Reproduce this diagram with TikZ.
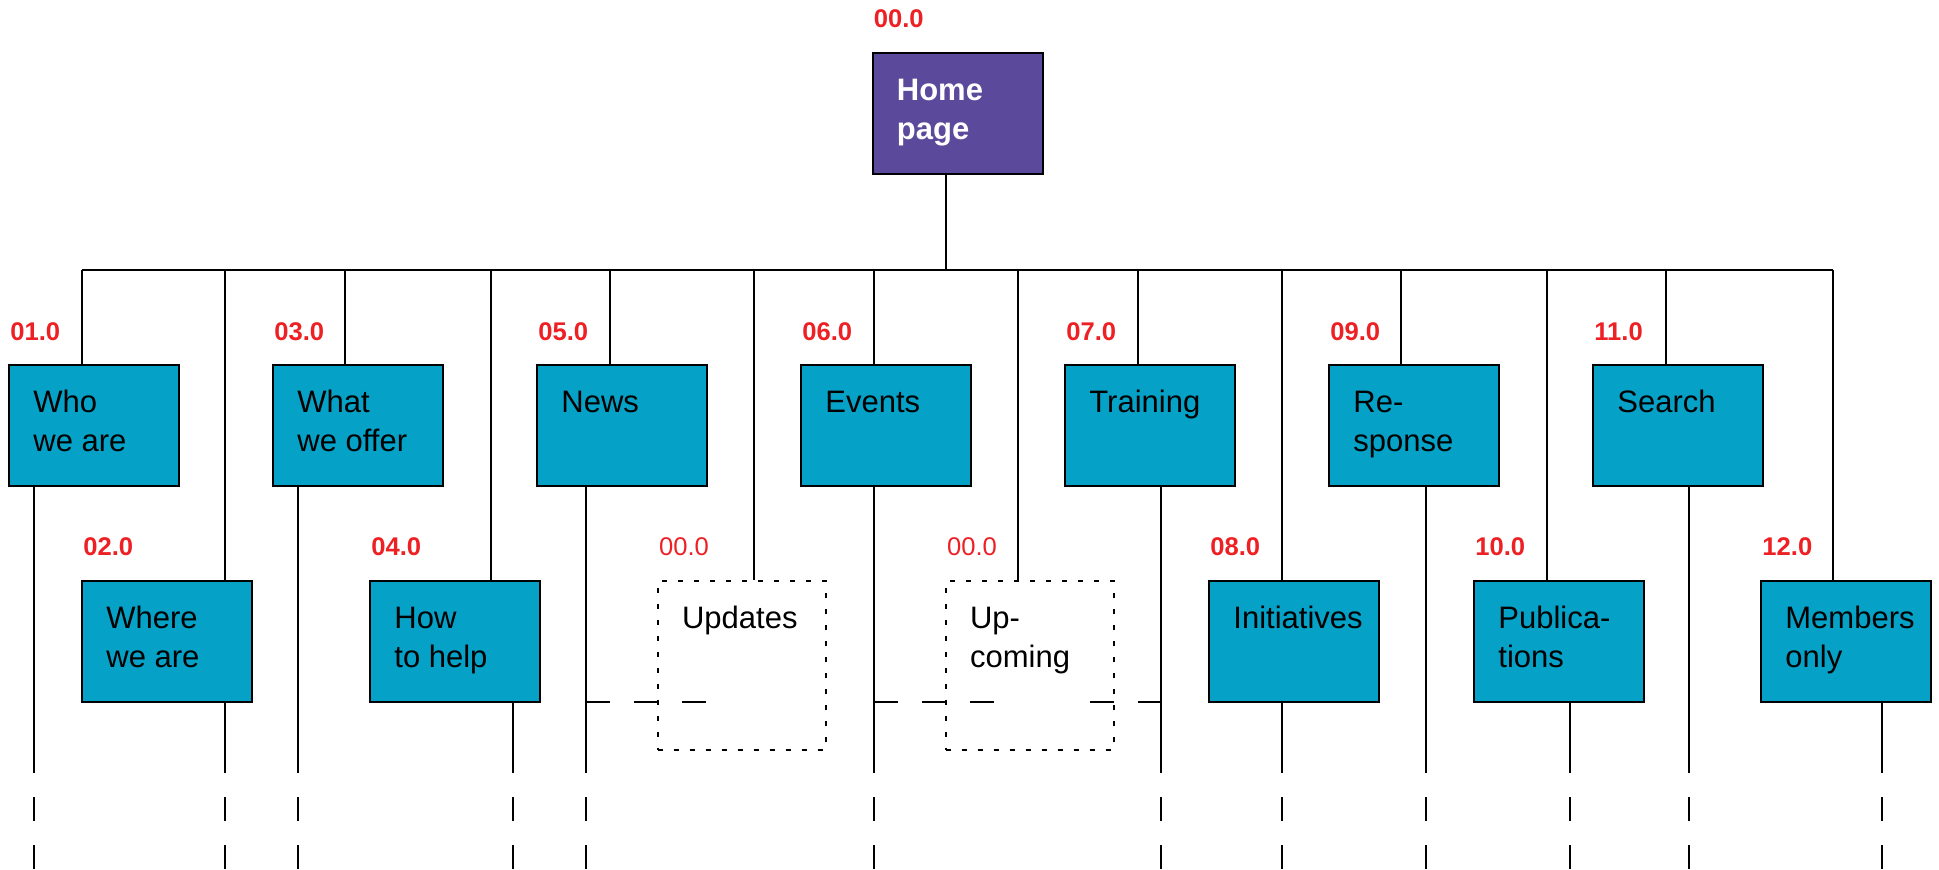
\documentclass[tikz,border=0pt]{standalone}
\usepackage{fontspec}
\setmainfont{Liberation Sans}
\definecolor{tealbox}{RGB}{5,161,198}
\definecolor{purpbox}{RGB}{91,74,155}
\definecolor{lblred}{RGB}{237,32,36}
\newcommand{\bxs}{\rule{0pt}{12pt}}
\tikzset{
  pagebox/.style={rectangle, draw=black, line width=1pt, fill=tealbox, minimum width=85pt, minimum height=60.5pt, inner sep=0pt},
  homebox/.style={pagebox, fill=purpbox},
  ghostbox/.style={rectangle, draw=black, line width=1.3pt, dash pattern=on 2.5pt off 5.5pt, minimum width=84pt, minimum height=84.5pt, inner sep=0pt},
  boxtext/.style={anchor=north west, inner sep=0pt, align=left, xshift=12.5pt, yshift=-12pt, font=\fontsize{15.5pt}{19.5pt}\selectfont},
  hometext/.style={boxtext, text=white, font=\fontsize{15.5pt}{19.5pt}\selectfont\bfseries},
  numlbl/.style={anchor=base west, inner sep=0pt, xshift=1pt, yshift=12pt, text=lblred, font=\fontsize{12.8pt}{15pt}\selectfont\bfseries},
  ghostlbl/.style={numlbl, xshift=0pt, font=\fontsize{12.8pt}{15pt}\selectfont},
  link/.style={draw=black, line width=1pt},
  tail/.style={link, dash pattern=on 12pt off 12pt, dash phase=12pt},
}
\begin{document}
\begin{tikzpicture}[x=0.5pt, y=-0.5pt]
\useasboundingbox (0,0) rectangle (1939,870);

% boxes
\node[homebox] (home) at (957.5,113.5) {};
\node[pagebox] (who) at (94,426) {};
\node[pagebox] (what) at (358,426) {};
\node[pagebox] (news) at (622,426) {};
\node[pagebox] (events) at (886,426) {};
\node[pagebox] (training) at (1150,426) {};
\node[pagebox] (response) at (1414,426) {};
\node[pagebox] (search) at (1678,426) {};
\node[pagebox] (where) at (167,641.5) {};
\node[pagebox] (howto) at (455,641.5) {};
\node[pagebox] (initiatives) at (1294,641.5) {};
\node[pagebox] (publications) at (1559,641.5) {};
\node[pagebox] (members) at (1846,641.5) {};
\node[ghostbox] (updates) at (742,665.5) {};
\node[ghostbox] (upcoming) at (1030,665.5) {};

% connectors
\coordinate (busL) at (82,270);
\coordinate (busR) at (1833,270);
\coordinate (homeBus) at (946,270);
\draw[link] (946,0 |- home.south) -- (homeBus);
\draw[link] (busL) -- (busR);
\foreach \n/\x in {who/82, where/225, what/345, howto/491, news/610, updates/754, events/874, upcoming/1018, training/1138, initiatives/1282, response/1401, publications/1547, search/1666, members/1833}
  \draw[link] (\x,270) -- (\x,0 |- \n.north);
\foreach \n/\x in {who/34, where/225, what/298, howto/513, news/586, events/874, training/1161, initiatives/1282, response/1426, publications/1570, search/1689, members/1882}
  {\draw[link] (\x,0 |- \n.south) -- (\x,773);
   \draw[tail] (\x,773) -- (\x,870);}
\coordinate (newsDash) at (586,702);
\coordinate (newsDashEnd) at (706,702);
\draw[link, dash pattern=on 12pt off 12pt] (newsDash) -- (newsDashEnd);
\coordinate (eventsDash) at (874,702);
\coordinate (trainingDash) at (1161,702);
\draw[link, dash pattern=on 12pt off 12pt on 12pt off 12pt on 12pt off 48pt on 12pt off 12pt on 12pt off 12pt] (eventsDash) -- (trainingDash);

% redraw ghost boxes on top
\node[ghostbox] at (updates.center) {};
\node[ghostbox] at (upcoming.center) {};

% texts
\node[hometext] (thome) at (home.north west) {\bxs Home\\page};
\node[boxtext] (twho) at (who.north west) {\bxs Who\\we are};
\node[boxtext] (twhat) at (what.north west) {\bxs What\\we offer};
\node[boxtext] (tnews) at (news.north west) {\bxs News};
\node[boxtext] (tevents) at (events.north west) {\bxs Events};
\node[boxtext] (ttraining) at (training.north west) {\bxs Training};
\node[boxtext] (tresponse) at (response.north west) {\bxs Re-\\sponse};
\node[boxtext] (tsearch) at (search.north west) {\bxs Search};
\node[boxtext] (twhere) at (where.north west) {\bxs Where\\we are};
\node[boxtext] (thowto) at (howto.north west) {\bxs How\\to help};
\node[boxtext] (tupdates) at (updates.north west) {\bxs Updates};
\node[boxtext] (tupcoming) at (upcoming.north west) {\bxs Up-\\coming};
\node[boxtext] (tinit) at (initiatives.north west) {\bxs Initiatives};
\node[boxtext] (tpub) at (publications.north west) {\bxs Publica-\\tions};
\node[boxtext] (tmem) at (members.north west) {\bxs Members\\only};

% numbers
\node[numlbl] (lhome) at (home.north west) {00.0};
\node[numlbl] (lwho) at (who.north west) {01.0};
\node[numlbl] (lwhere) at (where.north west) {02.0};
\node[numlbl] (lwhat) at (what.north west) {03.0};
\node[numlbl] (lhowto) at (howto.north west) {04.0};
\node[numlbl] (lnews) at (news.north west) {05.0};
\node[ghostlbl] (lupdates) at (updates.north west) {00.0};
\node[numlbl] (levents) at (events.north west) {06.0};
\node[ghostlbl] (lupcoming) at (upcoming.north west) {00.0};
\node[numlbl] (ltraining) at (training.north west) {07.0};
\node[numlbl] (linit) at (initiatives.north west) {08.0};
\node[numlbl] (lresponse) at (response.north west) {09.0};
\node[numlbl] (lpub) at (publications.north west) {10.0};
\node[numlbl] (lsearch) at (search.north west) {11.0};
\node[numlbl] (lmem) at (members.north west) {12.0};
\end{tikzpicture}
\end{document}
